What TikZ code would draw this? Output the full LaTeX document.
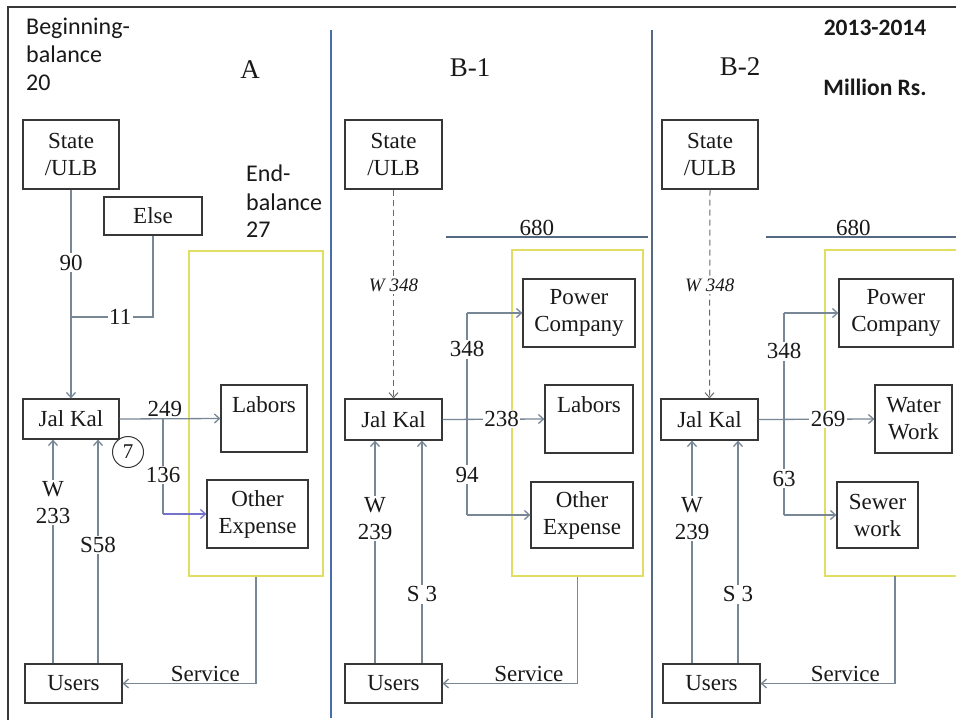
\documentclass[tikz,border=0pt]{standalone}
\usepackage{fontspec}
\setmainfont{Liberation Serif}
\newfontfamily\sansf{Carlito}
\usetikzlibrary{arrows.meta}
\definecolor{boxc}{RGB}{55,55,55}
\definecolor{conc}{RGB}{120,135,150}
\definecolor{yelc}{RGB}{225,222,100}
\definecolor{txtc}{RGB}{25,25,25}
\definecolor{divA}{RGB}{70,110,175}
\definecolor{divB}{RGB}{85,105,130}
\definecolor{bluec}{RGB}{115,115,205}
\definecolor{dashc}{RGB}{105,105,105}
\tikzset{
  box/.style={draw=boxc, line width=1.2pt, fill=white, text=txtc, font=\fontsize{23}{27}\selectfont, align=center, inner sep=0pt},
  yel/.style={draw=yelc, line width=1.5pt},
  con/.style={draw=conc, line width=1.3pt},
  arr/.style={-{Straight Barb[length=5pt,width=9pt]}},
  lab/.style={fill=white, inner sep=1.5pt, text=txtc, font=\fontsize{23}{27}\selectfont, align=center},
  tlab/.style={text=txtc, font=\fontsize{23}{27}\selectfont, align=center, inner sep=1pt},
  ilab/.style={fill=white, inner sep=1.5pt, text=txtc, font=\fontsize{19}{22}\selectfont\itshape},
  dsh/.style={draw=dashc, line width=1pt, dash pattern=on 6pt off 4pt},
  ttl/.style={text=txtc, font=\fontsize{27}{30}\selectfont, inner sep=0pt},
  stxt/.style={text=txtc, font=\sansf\fontsize{24}{28}\selectfont, align=left, inner sep=0pt},
  btxt/.style={text=txtc, font=\sansf\bfseries\fontsize{23.5}{26}\selectfont, inner sep=0pt},
}
\begin{document}
\begin{tikzpicture}[x=1pt,y=-1pt]
\useasboundingbox[fill=white] (0,0) rectangle (956,720);
% frame and dividers
\draw[boxc, line width=1.8pt] (8,720) -- (8,7) -- (956,7);
\draw[divA, line width=2.5pt] (331,30) -- (331,718);
\draw[divB, line width=2.5pt] (652,30) -- (652,718);

%%%%%%%%%%%%%%%% Panel A
\node[stxt, anchor=north west] (beg) at (26,18) {Beginning-\\balance\\20};
\node[ttl] (tA) at (250,70) {A};
\node[stxt, anchor=west] (endb) at (246,173) {End-};
\node[stxt, anchor=west] (endb2) at (246,202) {balance};
\node[stxt, anchor=west] (endb3) at (246,230) {27};
\node[yel, minimum width=134pt, minimum height=325pt, inner sep=0pt] (yelA) at (256,413.5) {};
\node[box, minimum width=96pt, minimum height=69pt] (stA) at (71,154.5) {State\\/ULB};
\node[box, minimum width=98pt, minimum height=38pt] (elseA) at (153,216) {Else};
\node[box, minimum width=96pt, minimum height=40pt] (jalA) at (71,419) {Jal Kal};
\node[box, minimum width=97pt, minimum height=39pt] (usersA) at (73.5,683.5) {Users};
\node[box, minimum width=86pt, minimum height=67pt] (labA) at (264,418.5) {};
\node[tlab] (labAt) at (264,405) {Labors};
\node[box, minimum width=101pt, minimum height=68pt] (othA) at (257.5,514) {Other\\Expense};
\node[draw=boxc, line width=1pt, circle, minimum size=31pt, inner sep=0pt, text=txtc, font=\fontsize{21}{24}\selectfont] (c7) at (128,452) {7};
\coordinate (jA) at (71,317);
\coordinate (bA1) at (163,419);
\coordinate (bA2) at (163,514);
\draw[con, arr] (stA.south) -- node[lab, pos=0.35] {90} (jalA.north);
\draw[con] (elseA.south) |- node[lab, pos=0.7] {11} (jA);
\draw[con, arr] (jalA.east) -- node[tlab, pos=0.45, anchor=south] {249} (labA.west);
\draw[con] (bA1) -- node[lab, pos=0.59] {136} (bA2);
\draw[con, draw=bluec, arr] (bA2) -- (othA.west);
\draw[con, arr] ([xshift=-20.5pt]usersA.north) -- node[lab, pos=0.72] {W\\233} ([xshift=-18pt]jalA.south);
\draw[con, arr] ([xshift=24.5pt]usersA.north) -- node[lab, pos=0.53] {S58} ([xshift=27pt]jalA.south);
\draw[con, arr] (yelA.south) |- node[tlab, pos=0.69, anchor=south] {Service} (usersA.east);

%%%%%%%%%%%%%%%% Panel B-1
\node[ttl] (tB) at (470,68) {B-1};
\coordinate (hB1) at (446,237);
\coordinate (hB2) at (648,237);
\draw[con, draw=divB] (hB1) -- node[tlab, pos=0.45, anchor=south] {680} (hB2);
\node[yel, minimum width=131pt, minimum height=326pt, inner sep=0pt] (yelB) at (577.5,413) {};
\node[box, minimum width=97pt, minimum height=69pt] (stB) at (393.5,154.5) {State\\/ULB};
\node[box, minimum width=97pt, minimum height=41pt] (jalB) at (393.5,419.5) {Jal Kal};
\node[box, minimum width=97pt, minimum height=39pt] (usersB) at (393.5,683.5) {Users};
\node[box, minimum width=112pt, minimum height=68pt] (powB) at (579,313) {Power\\Company};
\node[box, minimum width=88pt, minimum height=68pt] (labB) at (589,419) {};
\node[tlab] (labBt) at (589,405) {Labors};
\node[box, minimum width=102pt, minimum height=66pt] (othB) at (582,515) {Other\\Expense};
\coordinate (vB1) at (467,313);
\coordinate (vB2) at (467,515);
\draw[dsh, arr] (stB.south) -- node[ilab, pos=0.46] {W 348} (jalB.north);
\draw[con, arr] (jalB.east) -- node[lab, pos=0.58] {238} (labB.west);
\draw[con] (vB1) -- node[lab, pos=0.18] {348} node[lab, pos=0.8] {94} (vB2);
\draw[con, arr] (vB1) -- (powB.west);
\draw[con, arr] (vB2) -- (othB.west);
\draw[con, arr] ([xshift=-18.5pt]usersB.north) -- node[lab, pos=0.65] {W\\239} ([xshift=-18.5pt]jalB.south);
\draw[con, arr] ([xshift=28.5pt]usersB.north) -- node[lab, pos=0.31] {S 3} ([xshift=28.5pt]jalB.south);
\draw[con, arr] (yelB.south) |- node[tlab, pos=0.68, anchor=south] {Service} (usersB.east);

%%%%%%%%%%%%%%%% Panel B-2
\node[ttl] (tC) at (740,67) {B-2};
\node[btxt] (yr) at (875,28) {2013-2014};
\node[btxt] (mr) at (875,87) {Million Rs.};
\coordinate (hC1) at (766,237);
\coordinate (hC2) at (956,237);
\draw[con, draw=divB] (hC1) -- node[tlab, pos=0.46, anchor=south] {680} (hC2);
\draw[yel] (958,250) -- (825,250) -- (825,576) -- (958,576);
\coordinate (yC) at (895,576);
\node[box, minimum width=96pt, minimum height=69pt] (stC) at (710,154.5) {State\\/ULB};
\node[box, minimum width=97pt, minimum height=41pt] (jalC) at (709.5,419.5) {Jal Kal};
\node[box, minimum width=97pt, minimum height=39pt] (usersC) at (711.5,683.5) {Users};
\node[box, minimum width=114pt, minimum height=68pt] (powC) at (896,313) {Power\\Company};
\node[box, minimum width=77pt, minimum height=68pt] (watC) at (913.5,419) {Water\\Work};
\node[box, minimum width=81pt, minimum height=66pt] (sewC) at (877.5,515) {Sewer\\work};
\coordinate (vC1) at (784,313);
\coordinate (vC2) at (784,515);
\draw[dsh, arr] (stC.south) -- node[ilab, pos=0.46] {W 348} (jalC.north);
\draw[con, arr] (jalC.east) -- node[lab, pos=0.6] {269} (watC.west);
\draw[con] (vC1) -- node[lab, pos=0.19] {348} node[lab, pos=0.82] {63} (vC2);
\draw[con, arr] (vC1) -- (powC.west);
\draw[con, arr] (vC2) -- (sewC.west);
\draw[con, arr] ([xshift=-19.5pt]usersC.north) -- node[lab, pos=0.65] {W\\239} ([xshift=-17.5pt]jalC.south);
\draw[con, arr] ([xshift=26.5pt]usersC.north) -- node[lab, pos=0.31] {S 3} ([xshift=28.5pt]jalC.south);
\draw[con, arr] (yC) |- node[tlab, pos=0.685, anchor=south] {Service} (usersC.east);
\end{tikzpicture}
\end{document}
